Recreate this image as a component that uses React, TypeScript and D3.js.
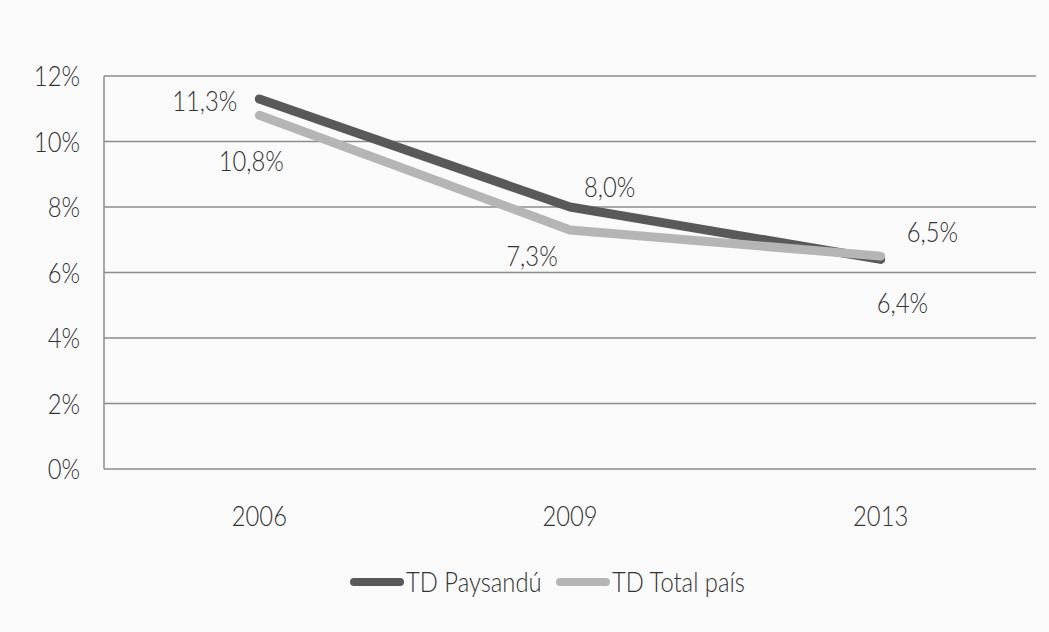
import React from 'react';
import * as d3 from 'd3';

const years = ['2006', '2009', '2013'];
const paysandu = [11.3, 8.0, 6.4];
const totalPais = [10.8, 7.3, 6.5];
const yTicks = [0, 2, 4, 6, 8, 10, 12];
const seriesNames = ['TD Paysandú', 'TD Total país'];

// label offsets relative to the point (placement only)
const paysanduOffsets = [[-22, 2], [14, -20], [-4, 44]];
const totalOffsets = [[-8, 46], [-38, 26], [26, -24]];

const W = 1049;
const H = 632;
const margin = { left: 104, right: 13, top: 76, bottom: 163 };
const font = 'Lato, "Open Sans", sans-serif';

const fmt = (v: number) => v.toFixed(1).replace('.', ',') + '%';

// condensed-looking text: narrow the glyphs horizontally
const T: React.FC<{ x: number; y: number; anchor?: string; children: React.ReactNode }> = ({ x, y, anchor = 'start', children }) => (
  <text transform={`translate(${x},${y}) scale(0.85,1)`} dy="0.36em" textAnchor={anchor as any}
    fontFamily={font} fontSize={28} fontWeight={300} fill="#333">{children}</text>
);

const App: React.FC = () => {
  const x = d3.scaleBand<string>().domain(years).range([margin.left, W - margin.right]);
  const y = d3.scaleLinear().domain([0, 12]).range([H - margin.bottom, margin.top]);
  const cx = (d: string) => (x(d) ?? 0) + x.bandwidth() / 2;

  const line = d3.line<number>().x((_, i) => cx(years[i])).y(v => y(v));

  const series = [
    { name: seriesNames[0], values: paysandu, color: '#595959', offsets: paysanduOffsets, anchor: ['end', 'start', 'start'] },
    { name: seriesNames[1], values: totalPais, color: '#b5b5b5', offsets: totalOffsets, anchor: ['middle', 'middle', 'start'] },
  ];

  return (
    <svg width={W} height={H} style={{ position: 'absolute', left: 0, top: 0, background: '#fafafa' }}>
      <rect x={0} y={0} width={W} height={H} fill="#fafafa" />
      {yTicks.map(t => (
        <g key={t}>
          <line x1={margin.left} x2={W - margin.right} y1={y(t)} y2={y(t)} stroke="#8c8c8c" strokeWidth={1.5} />
          <T x={80} y={y(t)} anchor="end">{t}%</T>
        </g>
      ))}
      <line x1={margin.left} x2={margin.left} y1={y(12)} y2={y(0)} stroke="#8c8c8c" strokeWidth={1.5} />
      {years.map(yr => (
        <T key={yr} x={cx(yr)} y={y(0) + 47} anchor="middle">{yr}</T>
      ))}
      {series.map(s => (
        <path key={s.name} d={line(s.values) ?? ''} fill="none" stroke={s.color} strokeWidth={9} strokeLinecap="round" strokeLinejoin="round" />
      ))}
      {series.map(s => s.values.map((v, i) => (
        <T key={s.name + i} x={cx(years[i]) + s.offsets[i][0]} y={y(v) + s.offsets[i][1]} anchor={s.anchor[i]}>{fmt(v)}</T>
      )))}
      {series.map((s, i) => {
        const lx = i === 0 ? 350 : 556;
        return (
          <g key={s.name}>
            <line x1={lx + 4} x2={lx + 50} y1={582} y2={582} stroke={s.color} strokeWidth={8} strokeLinecap="round" />
            <T x={lx + 56} y={582}>{s.name}</T>
          </g>
        );
      })}
    </svg>
  );
};

export default App;
